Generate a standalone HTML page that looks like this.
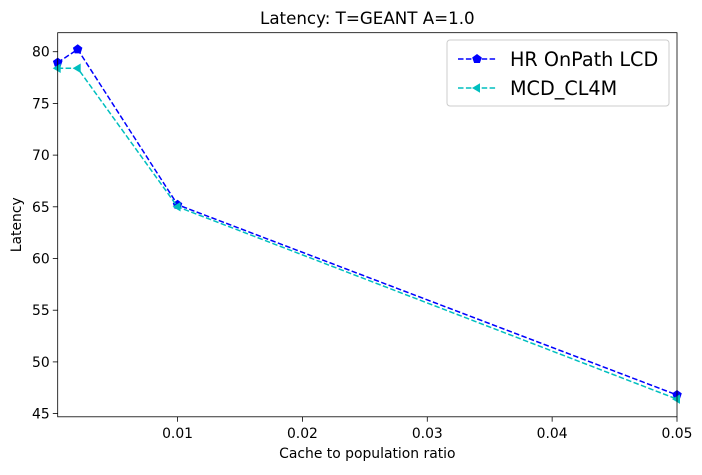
<!DOCTYPE html>
<html><head><meta charset="utf-8"><style>
body{margin:0;background:#fff;font-family:"Liberation Sans","DejaVu Sans",sans-serif}
svg text{font-family:"DejaVu Sans","Liberation Sans",sans-serif}
</style></head><body>
<svg id="c" width="702" height="470" viewBox="0 0 702 470"></svg>
<script>
const xValues=[0.0004,0.002,0.01,0.05];
const hrValues=[78.95,80.23,65.2,46.8];
const mcdValues=[78.4,78.4,65.0,46.4];
const xTicks=[0.01,0.02,0.03,0.04,0.05];
const xTickLabels=["0.01","0.02","0.03","0.04","0.05"];
const yTicks=[45,50,55,60,65,70,75,80];
const L=57.7,R=677,T=32.7,B=416.8,xmin=0.0004,xmax=0.05,ymin=44.69,ymax=81.84;
const sx=v=>L+(v-xmin)/(xmax-xmin)*(R-L);
const sy=v=>B-(v-ymin)/(ymax-ymin)*(B-T);
const svg=document.getElementById('c');const NS='http://www.w3.org/2000/svg';
function mk(t,a,p){const e=document.createElementNS(NS,t);for(const k in a)e.setAttribute(k,a[k]);(p||svg).appendChild(e);return e;}
let e;
e=mk('text',{x:(L+R)/2,y:24,'text-anchor':'middle','font-size':16.7,fill:'#000'});e.textContent='Latency: T=GEANT A=1.0';


xTicks.forEach((v,i)=>{const x=sx(v);
e=mk('line',{x1:x,x2:x,y1:B,y2:B+4.9,stroke:'#000','stroke-width':0.8});


e=mk('text',{x:x,y:B+21,'text-anchor':'middle','font-size':13.9,fill:'#000'});e.textContent=xTickLabels[i];

});
yTicks.forEach(v=>{const y=sy(v);
e=mk('line',{x1:L-4.9,x2:L,y1:y,y2:y,stroke:'#000','stroke-width':0.8});


e=mk('text',{x:L-8,y:y+5,'text-anchor':'end','font-size':13.9,fill:'#000'});e.textContent=v;

});
e=mk('text',{x:(L+R)/2,y:458,'text-anchor':'middle','font-size':13.9,fill:'#000'});e.textContent='Cache to population ratio';


e=mk('text',{x:0,y:0,'text-anchor':'middle','font-size':13.9,fill:'#000',transform:`translate(21,${(T+B)/2}) rotate(-90)`});e.textContent='Latency';


const g=mk('g',{'clip-path':'url(#cp)'});
const cp=mk('clipPath',{id:'cp'});mk('rect',{x:L-8,y:T,width:R-L+16,height:B-T},cp);
function pent(x,y,r){let p=[];for(let k=0;k<5;k++){const a=-Math.PI/2+k*2*Math.PI/5;p.push((x+r*Math.cos(a)).toFixed(1)+','+(y+r*Math.sin(a)).toFixed(1));}return p.join(' ');}
function tri(x,y,r){return `${x-r},${y} ${x+r*0.6},${y-r*0.95} ${x+r*0.6},${y+r*0.95}`;}
function series(vals,col,name,marker){
const pts=xValues.map((x,i)=>sx(x)+','+sy(vals[i])).join(' ');
e=mk('polyline',{points:pts,fill:'none',stroke:col,'stroke-width':1.5,'stroke-dasharray':'5.5,2.4'},g);


xValues.forEach((x,i)=>{e=mk('polygon',{points:marker(sx(x),sy(vals[i]),5),fill:col},g);

});}
series(hrValues,'#0000ff','hr-onpath-lcd',pent);
series(mcdValues,'#00bfbf','mcd-cl4m',tri);
e=mk('rect',{x:L,y:T,width:R-L,height:B-T,fill:'none',stroke:'#000','stroke-width':0.8});


const lg=mk('g',{});


mk('rect',{x:447,y:40,width:222,height:66,rx:3,fill:'#fff','fill-opacity':0.8,stroke:'#ccc','stroke-width':1},lg);
[['HR OnPath LCD','#0000ff',pent,59],['MCD_CL4M','#00bfbf',tri,88]].forEach(([t,c,m,y])=>{
e=mk('line',{x1:458,x2:496,y1:y,y2:y,stroke:c,'stroke-width':1.5,'stroke-dasharray':'5.5,2.4'},lg);


e=mk('polygon',{points:m(477,y,5),fill:c},lg);


e=mk('text',{x:510,y:y+7,'font-size':19.2,fill:'#000'},lg);e.textContent=t;

});
</script>
</body></html>
